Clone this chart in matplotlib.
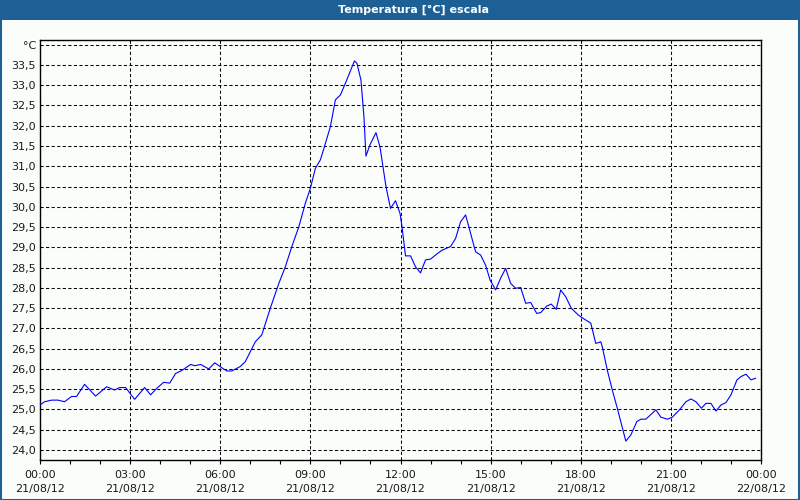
import matplotlib
matplotlib.use("Agg")
import matplotlib.pyplot as plt
from matplotlib.patches import Rectangle

# ---- data (minutes after 21/08/12 00:00, temperature °C) ----
minutes = [0, 9, 23, 36, 49, 63, 73, 89, 111, 133, 149, 159, 171, 189, 209, 221, 233,
           247, 259, 271, 283, 301, 309, 321, 337, 349, 363, 373, 383, 400, 410, 430,
           443, 460, 477, 490, 503, 517, 530, 540, 550, 560, 567, 580, 590, 600, 610,
           628, 633, 641, 647, 651, 659, 671, 679, 685, 691, 700, 710, 719, 723, 730,
           740, 750, 760, 770, 780, 793, 803, 820, 830, 840, 850, 860, 870, 880, 890,
           899, 910, 920, 930, 940, 950, 960, 970, 980, 992, 1000, 1012, 1021, 1031,
           1040, 1050, 1061, 1075, 1087, 1100, 1110, 1120, 1123, 1133, 1143, 1153,
           1170, 1180, 1192, 1200, 1210, 1230, 1240, 1253, 1263, 1277, 1290, 1300,
           1310, 1321, 1330, 1340, 1350, 1360, 1370, 1380, 1392, 1400, 1410, 1420, 1429]
temps = [25.11, 25.19, 25.23, 25.23, 25.19, 25.32, 25.32, 25.62, 25.33, 25.56, 25.48,
         25.54, 25.54, 25.25, 25.54, 25.36, 25.52, 25.67, 25.65, 25.89, 25.96, 26.11,
         26.08, 26.11, 26.00, 26.15, 26.03, 25.95, 25.95, 26.06, 26.18, 26.67, 26.84,
         27.50, 28.11, 28.52, 29.02, 29.51, 30.09, 30.46, 30.95, 31.16, 31.44, 31.98,
         32.64, 32.76, 33.05, 33.60, 33.54, 33.13, 32.22, 31.25, 31.53, 31.83, 31.48,
         30.99, 30.50, 29.96, 30.15, 29.84, 29.51, 28.79, 28.79, 28.52, 28.37, 28.69,
         28.71, 28.84, 28.93, 29.02, 29.22, 29.63, 29.80, 29.35, 28.89, 28.81, 28.56,
         28.19, 27.95, 28.24, 28.48, 28.11, 27.99, 28.01, 27.62, 27.64, 27.37, 27.39,
         27.55, 27.60, 27.47, 27.95, 27.78, 27.50, 27.33, 27.23, 27.13, 26.63, 26.67,
         26.55, 25.97, 25.48, 25.03, 24.22, 24.37, 24.70, 24.76, 24.76, 24.99, 24.81,
         24.76, 24.81, 24.99, 25.19, 25.26, 25.19, 25.03, 25.15, 25.15, 24.96, 25.11,
         25.17, 25.36, 25.73, 25.81, 25.87, 25.73, 25.77]

x_tick_minutes = [0, 180, 360, 540, 720, 900, 1080, 1260, 1440]
x_tick_labels = ["00:00\n21/08/12", "03:00\n21/08/12", "06:00\n21/08/12",
                 "09:00\n21/08/12", "12:00\n21/08/12", "15:00\n21/08/12",
                 "18:00\n21/08/12", "21:00\n21/08/12", "00:00\n22/08/12"]
y_tick_values = [24.0, 24.5, 25.0, 25.5, 26.0, 26.5, 27.0, 27.5, 28.0, 28.5, 29.0,
                 29.5, 30.0, 30.5, 31.0, 31.5, 32.0, 32.5, 33.0, 33.5, 34.0]
y_tick_labels = [f"{v:.1f}".replace(".", ",") for v in y_tick_values[:-1]] + ["°C"]
title = "Temperatura [°C] escala"

# ---- figure ----
plt.rcParams['lines.scale_dashes'] = False
bg = "#fbfdfb"
border = "#1d6096"
fig = plt.figure(figsize=(8, 5), dpi=100, facecolor=bg)

# title bar and frame
fig.patches.append(Rectangle((0, 1 - 20 / 500), 1, 20 / 500, transform=fig.transFigure,
                             facecolor=border, edgecolor="none", zorder=0))
fig.patches.append(Rectangle((0.5 / 800, 0.5 / 500), 1 - 1.5 / 800, 1 - 1.5 / 500,
                             transform=fig.transFigure, facecolor="none",
                             edgecolor=border, linewidth=1.5, zorder=1))
fig.text(413 / 800, 1 - 10 / 500, title, color="white", fontsize=8, fontweight="bold",
         ha="center", va="center", family="DejaVu Sans")

ax = fig.add_axes([40 / 800, 40 / 500, 721 / 800, 420 / 500], facecolor=bg)
ax.plot(minutes, temps, color="#0000ff", linewidth=0.8, zorder=3)

ax.set_xlim(0, 1440)
ax.set_ylim(23.753, 34.116)

ax.set_xticks(x_tick_minutes)
ax.set_xticklabels(x_tick_labels, fontsize=8, color="#1a1a1a", linespacing=1.55)
ax.set_xticks(range(0, 1441, 60), minor=True)
ax.tick_params(axis="x", which="both", direction="out", length=3, width=0.8,
               color="black", pad=4)

ax.set_yticks(y_tick_values)
ax.set_yticklabels(y_tick_labels, fontsize=8, color="#1a1a1a")
ax.tick_params(axis="y", length=0, pad=3)

ax.grid(True, which="major", color="black", linewidth=0.75,
        linestyle=(0, (2.3, 1.7)), zorder=1)

for s in ax.spines.values():
    s.set_color("black")
    s.set_linewidth(1.0)

fig.savefig("out.png", dpi=100, facecolor=bg)
